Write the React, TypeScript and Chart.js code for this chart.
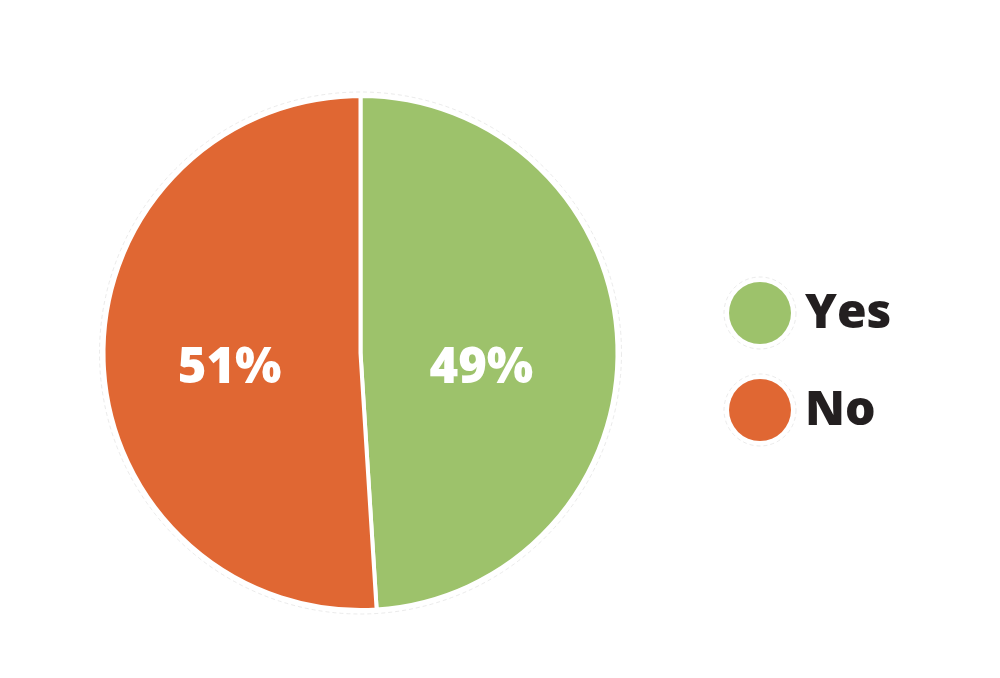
import React, { useEffect, useRef } from "react";
import { Chart, registerables } from "chart.js";

Chart.register(...registerables);

const categories = ["Yes", "No"];
const values = [49, 51];
const colors = ["#9DC26B", "#E06733"];
const valueLabels = ["49%", "51%"];

const FONT = "'Open Sans', Lato, sans-serif";
const TEXT_DARK = "#231F20";
const RING = "rgba(215,215,215,0.5)";

const overlayPlugin = {
  id: "overlay",
  beforeDatasetsDraw(chart: any) {
    const meta = chart.getDatasetMeta(0);
    const arc = meta.data[0];
    if (!arc) return;
    const ctx = chart.ctx;
    ctx.save();
    ctx.strokeStyle = RING;
    ctx.lineWidth = 1;
    ctx.setLineDash([4, 3]);
    ctx.beginPath();
    ctx.arc(arc.x, arc.y, arc.outerRadius + 4, 0, Math.PI * 2);
    ctx.stroke();
    ctx.restore();
  },
  afterDatasetsDraw(chart: any) {
    const ctx = chart.ctx;
    const meta = chart.getDatasetMeta(0);
    ctx.save();
    ctx.fillStyle = "#FFFFFF";
    ctx.font = `800 49px ${FONT}`;
    ctx.textAlign = "center";
    ctx.textBaseline = "alphabetic";
    meta.data.forEach((a: any, i: number) => {
      const mid = (a.startAngle + a.endAngle) / 2;
      const r = a.outerRadius * 0.49;
      const x = a.x + Math.cos(mid) * r - 5;
      const y = a.y + 30;
      ctx.fillText(valueLabels[i], x, y);
    });
    // legend
    const lx = 760;
    const ys = [313, 410];
    categories.forEach((c, i) => {
      ctx.strokeStyle = RING;
      ctx.lineWidth = 1;
      ctx.setLineDash([4, 3]);
      ctx.beginPath();
      ctx.arc(lx, ys[i], 36, 0, Math.PI * 2);
      ctx.stroke();
      ctx.setLineDash([]);
      ctx.fillStyle = colors[i];
      ctx.beginPath();
      ctx.arc(lx, ys[i], 31, 0, Math.PI * 2);
      ctx.fill();
      ctx.fillStyle = TEXT_DARK;
      ctx.textAlign = "left";
      ctx.font = `800 48px ${FONT}`;
      ctx.fillText(c, 805, ys[i] + 15);
    });
    ctx.restore();
  },
};

export default function App() {
  const ref = useRef<HTMLCanvasElement>(null);
  useEffect(() => {
    if (!ref.current) return;
    const chart = new Chart(ref.current, {
      type: "pie",
      data: {
        labels: categories,
        datasets: [
          {
            data: values,
            backgroundColor: colors,
            borderColor: "#FFFFFF",
            borderWidth: 4,
          },
        ],
      },
      options: {
        responsive: false,
        animation: false,
        layout: { padding: { left: 101.5, top: 94, right: 380.5, bottom: 66 } },
        plugins: {
          legend: { display: false },
          tooltip: { enabled: false },
        },
      },
      plugins: [overlayPlugin],
    });
    return () => chart.destroy();
  }, []);
  return (
    <div style={{ position: "fixed", left: 0, top: 0, width: 1000, height: 678, background: "#fff" }}>
      <canvas ref={ref} width={1000} height={678} style={{ width: 1000, height: 678 }} />
    </div>
  );
}
